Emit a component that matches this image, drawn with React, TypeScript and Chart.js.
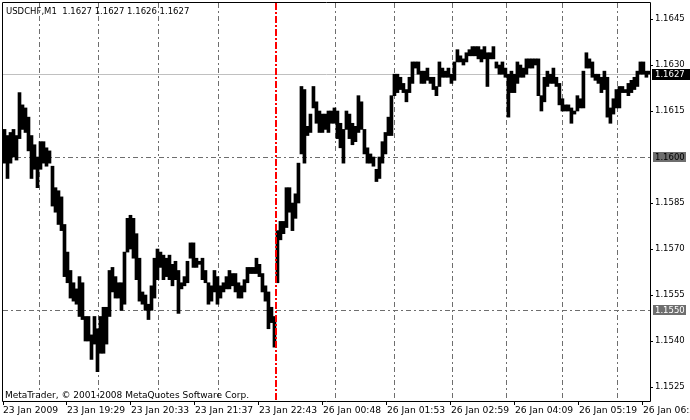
import React, { useEffect, useRef } from 'react';
import { Chart, registerables } from 'chart.js';

Chart.register(...registerables);

const symbolTitle = 'USDCHF,M1  1.1627 1.1627 1.1626 1.1627';
const copyright = 'MetaTrader, \u00a9 2001-2008 MetaQuotes Software Corp.';

// each entry = one 3-minute group of M1 bars (high / low)
const highs = [
  1.1609, 1.1607, 1.1608, 1.1609, 1.1607, 1.1621, 1.1617, 1.1616, 1.1613, 1.1607,
  1.1604, 1.1600, 1.1605, 1.1605, 1.1603, 1.1602, 1.1597, 1.1590, 1.1589, 1.1587,
  1.1578, 1.1569, 1.1563, 1.1559, 1.1557, 1.1561, 1.1559, 1.1548, 1.1548, 1.1542,
  1.1548, 1.1544, 1.1548, 1.1551, 1.1551, 1.1563, 1.1564, 1.1561, 1.1559, 1.1559,
  1.1569, 1.1580, 1.1581, 1.1580, 1.1575, 1.1567, 1.1556, 1.1555, 1.1552, 1.1558,
  1.1567, 1.1570, 1.1569, 1.1568, 1.1567, 1.1568, 1.1565, 1.1566, 1.1563, 1.1559,
  1.1561, 1.1566, 1.1572, 1.1572, 1.1567, 1.1566, 1.1567, 1.1563, 1.1559, 1.1558,
  1.1563, 1.1561, 1.1558, 1.1559, 1.1561, 1.1563, 1.1562, 1.1562, 1.1559, 1.1558,
  1.1560, 1.1564, 1.1564, 1.1564, 1.1567, 1.1565, 1.1562, 1.1558, 1.1556, 1.1551,
  1.1548, 1.1576, 1.1579, 1.1579, 1.1590, 1.1590, 1.1585, 1.1588, 1.1598, 1.1623,
  1.1622, 1.1610, 1.1614, 1.1623, 1.1618, 1.1615, 1.1614, 1.1614, 1.1615, 1.1615,
  1.1616, 1.1615, 1.1611, 1.1609, 1.1615, 1.1614, 1.1611, 1.1610, 1.1620, 1.1618,
  1.1609, 1.1603, 1.1601, 1.1600, 1.1596, 1.1600, 1.1605, 1.1608, 1.1613, 1.1620,
  1.1627, 1.1627, 1.1626, 1.1624, 1.1622, 1.1626, 1.1631, 1.1631, 1.1631, 1.1628,
  1.1628, 1.1629, 1.1626, 1.1626, 1.1623, 1.1631, 1.1629, 1.1628, 1.1629, 1.1627,
  1.1631, 1.1635, 1.1633, 1.1632, 1.1634, 1.1635, 1.1636, 1.1636, 1.1636, 1.1635,
  1.1636, 1.1634, 1.1634, 1.1636, 1.1631, 1.1630, 1.1631, 1.1629, 1.1627, 1.1628,
  1.1627, 1.1631, 1.1630, 1.1629, 1.1632, 1.1632, 1.1632, 1.1632, 1.1632, 1.1620,
  1.1626, 1.1628, 1.1627, 1.1629, 1.1626, 1.1624, 1.1619, 1.1617, 1.1617, 1.1616,
  1.1615, 1.1620, 1.1619, 1.1628, 1.1634, 1.1632, 1.1631, 1.1627, 1.1627, 1.1626,
  1.1628, 1.1626, 1.1616, 1.1619, 1.1622, 1.1623, 1.1623, 1.1622, 1.1624, 1.1625,
  1.1626, 1.1628, 1.1631, 1.1631, 1.1628, 1.1628,
];

const lows = [
  1.1598, 1.1593, 1.1598, 1.1600, 1.1599, 1.1606, 1.1609, 1.1608, 1.1602, 1.1593,
  1.1596, 1.1590, 1.1596, 1.1598, 1.1597, 1.1598, 1.1584, 1.1582, 1.1578, 1.1576,
  1.1561, 1.1559, 1.1554, 1.1553, 1.1552, 1.1548, 1.1547, 1.1540, 1.1540, 1.1534,
  1.1539, 1.1530, 1.1536, 1.1536, 1.1539, 1.1548, 1.1556, 1.1554, 1.1554, 1.1550,
  1.1552, 1.1569, 1.1570, 1.1567, 1.1560, 1.1553, 1.1552, 1.1550, 1.1547, 1.1550,
  1.1554, 1.1560, 1.1564, 1.1560, 1.1561, 1.1560, 1.1558, 1.1560, 1.1549, 1.1557,
  1.1558, 1.1559, 1.1567, 1.1564, 1.1564, 1.1565, 1.1560, 1.1559, 1.1552, 1.1553,
  1.1556, 1.1552, 1.1554, 1.1556, 1.1557, 1.1557, 1.1558, 1.1556, 1.1554, 1.1554,
  1.1556, 1.1559, 1.1562, 1.1562, 1.1562, 1.1561, 1.1556, 1.1553, 1.1544, 1.1546,
  1.1538, 1.1559, 1.1573, 1.1575, 1.1577, 1.1582, 1.1576, 1.1580, 1.1585, 1.1601,
  1.1598, 1.1607, 1.1608, 1.1616, 1.1611, 1.1608, 1.1608, 1.1609, 1.1608, 1.1611,
  1.1611, 1.1606, 1.1603, 1.1598, 1.1609, 1.1606, 1.1604, 1.1605, 1.1608, 1.1609,
  1.1601, 1.1598, 1.1598, 1.1597, 1.1592, 1.1593, 1.1598, 1.1601, 1.1607, 1.1607,
  1.1620, 1.1621, 1.1622, 1.1621, 1.1618, 1.1621, 1.1624, 1.1629, 1.1627, 1.1624,
  1.1624, 1.1625, 1.1624, 1.1622, 1.1620, 1.1623, 1.1626, 1.1626, 1.1626, 1.1624,
  1.1625, 1.1631, 1.1631, 1.1630, 1.1631, 1.1633, 1.1633, 1.1633, 1.1632, 1.1631,
  1.1632, 1.1623, 1.1632, 1.1632, 1.1629, 1.1627, 1.1627, 1.1626, 1.1613, 1.1621,
  1.1621, 1.1624, 1.1626, 1.1626, 1.1627, 1.1629, 1.1629, 1.1630, 1.1620, 1.1615,
  1.1618, 1.1623, 1.1624, 1.1624, 1.1623, 1.1617, 1.1615, 1.1615, 1.1615, 1.1611,
  1.1614, 1.1615, 1.1616, 1.1616, 1.1629, 1.1629, 1.1626, 1.1625, 1.1624, 1.1621,
  1.1622, 1.1613, 1.1611, 1.1614, 1.1616, 1.1616, 1.1621, 1.1621, 1.1620, 1.1621,
  1.1622, 1.1623, 1.1627, 1.1627, 1.1626, 1.1627,
];

// time axis (positions in bar-group index units)
const xTickPos = [-0.5, 20.83, 42.17, 63.5, 84.83, 106.17, 127.5, 148.83, 170.17, 191.5, 212.83];
const xTickLabels = [
  '23 Jan 2009', '23 Jan 19:29', '23 Jan 20:33', '23 Jan 21:37', '23 Jan 22:43',
  '26 Jan 00:48', '26 Jan 01:53', '26 Jan 02:59', '26 Jan 04:09', '26 Jan 05:19', '26 Jan 06:24',
];
const hourGridPos = [11.5, 31.2, 51.2, 71.2, 110.2, 129.8, 149.2, 167.2, 185.8, 204.2];
const weekendSeparator = 90.5;

// price axis
const yTickValues = [1.1525, 1.154, 1.1555, 1.157, 1.1585, 1.1615, 1.163, 1.1645];
const hLineLevels = [1.16, 1.155];
const hLineTextColors = ['#000000', '#ffffff'];
const bidPrice = 1.1627;
const priceMin = 1.152044;
const priceMax = 1.165022;
const xMin = -0.5;
const xMax = 215.2;

const FONT = 'DejaVu Sans';

const mtPlugin = {
  id: 'mtDecor',
  beforeDatasetsDraw(chart: any) {
    const { ctx, chartArea: a, scales } = chart;
    const x = scales.x;
    const y = scales.y;
    ctx.save();
    ctx.beginPath();
    ctx.rect(a.left, a.top, a.right - a.left, a.bottom - a.top);
    ctx.clip();
    ctx.lineWidth = 1;
    ctx.strokeStyle = '#6e6e6e';
    ctx.setLineDash([5, 3, 2, 3]);
    for (const g of hourGridPos) {
      const px = Math.round(x.getPixelForValue(g)) + 0.5;
      ctx.beginPath();
      ctx.moveTo(px, a.top);
      ctx.lineTo(px, a.bottom);
      ctx.stroke();
    }
    for (const lv of hLineLevels) {
      const py = Math.round(y.getPixelForValue(lv)) + 0.5;
      ctx.beginPath();
      ctx.moveTo(a.left, py);
      ctx.lineTo(a.right, py);
      ctx.stroke();
    }
    ctx.setLineDash([]);
    ctx.strokeStyle = '#c0c0c0';
    const by = Math.round(y.getPixelForValue(bidPrice)) + 0.5;
    ctx.beginPath();
    ctx.moveTo(a.left, by);
    ctx.lineTo(a.right, by);
    ctx.stroke();
    ctx.restore();
  },
  afterDatasetsDraw(chart: any) {
    const { ctx, chartArea: a, scales } = chart;
    const px = Math.round(scales.x.getPixelForValue(weekendSeparator));
    ctx.save();
    ctx.lineWidth = 2;
    ctx.strokeStyle = '#ff0000';
    ctx.setLineDash([7, 2, 2, 2]);
    ctx.beginPath();
    ctx.moveTo(px, a.top);
    ctx.lineTo(px, a.bottom);
    ctx.stroke();
    ctx.restore();
  },
  afterDraw(chart: any) {
    const { ctx, chartArea: a, scales } = chart;
    const y = scales.y;
    ctx.save();
    // frame
    ctx.strokeStyle = '#000';
    ctx.lineWidth = 1;
    ctx.beginPath();
    ctx.moveTo(a.left - 0.5, a.bottom + 0.5);
    ctx.lineTo(a.left - 0.5, a.top - 0.5);
    ctx.lineTo(a.right + 0.5, a.top - 0.5);
    ctx.lineTo(a.right + 0.5, a.bottom + 0.5);
    ctx.lineTo(a.left - 0.5, a.bottom + 0.5);
    ctx.stroke();
    // labels on the price axis
    ctx.font = `8.5px "${FONT}"`;
    ctx.textBaseline = 'middle';
    ctx.textAlign = 'left';
    hLineLevels.forEach((lv, i) => {
      const py = Math.round(y.getPixelForValue(lv));
      ctx.fillStyle = '#6e6e6e';
      ctx.fillRect(a.right + 3, py - 5, 33, 10);
      ctx.fillStyle = hLineTextColors[i];
      ctx.fillText(lv.toFixed(4), a.right + 5, py + 0.5);
    });
    const by = Math.round(y.getPixelForValue(bidPrice));
    ctx.fillStyle = '#000';
    ctx.fillRect(a.right + 2, by - 5, 38, 11);
    ctx.fillStyle = '#fff';
    ctx.fillText(bidPrice.toFixed(4), a.right + 5, by + 0.5);
    // texts
    ctx.fillStyle = '#000';
    ctx.textBaseline = 'alphabetic';
    ctx.fillText(symbolTitle, 6, 14);
    ctx.font = `9px "${FONT}"`;
    ctx.fillText(copyright, 5, 398);
    ctx.restore();
  },
};

export default function App() {
  const ref = useRef<HTMLCanvasElement>(null);
  useEffect(() => {
    document.body.style.margin = '0';
    Chart.defaults.font.family = FONT;
    Chart.defaults.font.size = 8.5;
    Chart.defaults.color = '#000';
    const data = highs.map((h, i) => ({ x: i, y: [lows[i], h] }));
    const chart = new Chart(ref.current as HTMLCanvasElement, {
      type: 'bar',
      data: {
        datasets: [
          {
            data: data as any,
            backgroundColor: '#000000',
            borderWidth: 0,
            barPercentage: 1,
            categoryPercentage: 1,
            grouped: false,
          } as any,
        ],
      },
      options: {
        responsive: false,
        animation: false,
        events: [],
        layout: { padding: { left: 3, top: 3, right: 0, bottom: 0 } },
        plugins: { legend: { display: false }, tooltip: { enabled: false } },
        scales: {
          x: {
            type: 'linear',
            min: xMin,
            max: xMax,
            offset: false,
            grid: { offset: false, drawOnChartArea: false, drawTicks: true, tickLength: 4, color: '#000' },
            border: { display: false },
            afterBuildTicks: (s: any) => {
              s.ticks = xTickPos.map((v) => ({ value: v }));
            },
            afterFit: (s: any) => {
              s.height = 19;
              s.paddingLeft = 0;
              s.paddingRight = 0;
            },
            ticks: {
              autoSkip: false,
              maxRotation: 0,
              minRotation: 0,
              align: 'start',
              padding: 0,
              color: '#000',
              font: { family: FONT, size: 9.2 },
              callback: (_v: any, i: number) => xTickLabels[i],
            },
          } as any,
          y: {
            type: 'linear',
            position: 'right',
            min: priceMin,
            max: priceMax,
            grid: { drawOnChartArea: false, drawTicks: true, tickLength: 3, color: '#000' },
            border: { display: false },
            afterBuildTicks: (s: any) => {
              s.ticks = yTickValues.map((v) => ({ value: v }));
            },
            afterFit: (s: any) => {
              s.width = 40;
              s.paddingTop = 0;
              s.paddingBottom = 0;
            },
            ticks: {
              padding: 2,
              color: '#000',
              font: { family: FONT, size: 8.5 },
              callback: (v: any) => Number(v).toFixed(4),
            },
          } as any,
        },
      },
      plugins: [mtPlugin],
    });
    return () => chart.destroy();
  }, []);
  return (
    <div style={{ width: 690, height: 420, background: '#fff' }}>
      <canvas ref={ref} width={690} height={420} style={{ display: 'block' }} />
    </div>
  );
}
